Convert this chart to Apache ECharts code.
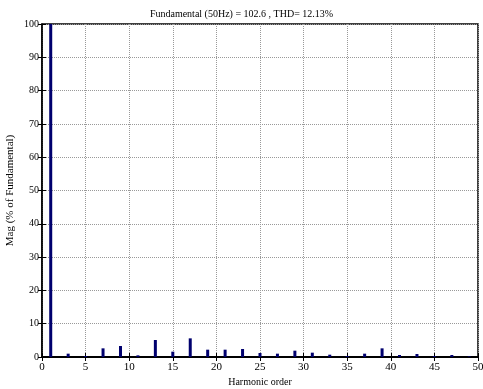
<!DOCTYPE html>
<html>
  <head>
    <title>Harmonic spectrum</title>
    <meta charset="utf-8" />
    <script src="https://cdn.jsdelivr.net/npm/echarts@6/dist/echarts.min.js"></script>
    <style>
      body { margin: 0; background: #fff; }
    </style>
  </head>
  <body>
    <div id="main" style="width: 483px;height:389px;"></div>
    <script type="text/javascript">
      // harmonic orders and magnitudes (% of fundamental)
      var orders = [1, 3, 5, 7, 9, 11, 13, 15, 17, 19, 21, 23, 25, 27, 29, 31, 33, 35, 37, 39, 41, 43, 45, 47, 49];
      var mags = [100, 1.0, 0.3, 2.6, 3.3, 0.5, 5.1, 1.6, 5.6, 2.2, 2.2, 2.4, 1.2, 1.0, 1.9, 1.3, 0.7, 0.3, 1.0, 2.6, 0.6, 0.9, 0.3, 0.6, 0.2];
      var titleText = 'Fundamental (50Hz) = 102.6 , THD= 12.13%';

      var barData = [];
      for (var i = 0; i < orders.length; i++) {
        barData.push([orders[i], mags[i]]);
      }

      var font = 'Liberation Serif';
      var myChart = echarts.init(document.getElementById('main'));

      // mirror axes on top/right only draw the inward ticks of the box
      var tickOnly = {
        axisLine: { show: false },
        axisTick: { show: true, inside: true, length: 4, lineStyle: { color: '#000' } },
        axisLabel: { show: false },
        splitLine: { show: false }
      };

      var option = {
        animation: false,
        title: {
          text: titleText,
          left: 'center',
          top: 4,
          textStyle: { fontFamily: font, fontSize: 10, fontWeight: 'normal', color: '#000' }
        },
        grid: {
          left: 42, right: 5, top: 24, bottom: 32,
          outerBoundsMode: 'none', containLabel: false,
          show: true, borderColor: '#000', borderWidth: 1.5
        },
        xAxis: [{
          type: 'value',
          min: 0, max: 50, interval: 5,
          name: 'Harmonic order',
          nameLocation: 'middle',
          nameGap: 20,
          nameMoveOverlap: false,
          nameTextStyle: { fontFamily: font, fontSize: 10, color: '#000' },
          axisLine: { show: true, lineStyle: { color: '#000', width: 2 } },
          axisTick: { show: true, inside: true, length: 4, lineStyle: { color: '#000' } },
          axisLabel: { fontFamily: font, fontSize: 11, color: '#000', margin: 5 },
          splitLine: { show: true, lineStyle: { color: '#999', type: 'dotted', width: 1 } }
        }, Object.assign({ type: 'value', min: 0, max: 50, interval: 5, position: 'top' }, tickOnly)],
        yAxis: [{
          type: 'value',
          min: 0, max: 100, interval: 10,
          name: 'Mag (% of Fundamental)',
          nameLocation: 'middle',
          nameGap: 26,
          nameMoveOverlap: false,
          nameTextStyle: { fontFamily: font, fontSize: 11, color: '#000' },
          axisLine: { show: true, lineStyle: { color: '#000', width: 1.5 } },
          axisTick: { show: true, inside: true, length: 4, lineStyle: { color: '#000' } },
          axisLabel: { fontFamily: font, fontSize: 10, color: '#000', margin: 3 },
          splitLine: { show: true, lineStyle: { color: '#999', type: 'dotted', width: 1 } }
        }, Object.assign({ type: 'value', min: 0, max: 100, interval: 10, position: 'right' }, tickOnly)],
        series: [{
          type: 'bar',
          data: barData,
          barWidth: 3,
          itemStyle: { color: '#00006e' }
        }]
      };

      myChart.setOption(option);
    </script>
  </body>
</html>
